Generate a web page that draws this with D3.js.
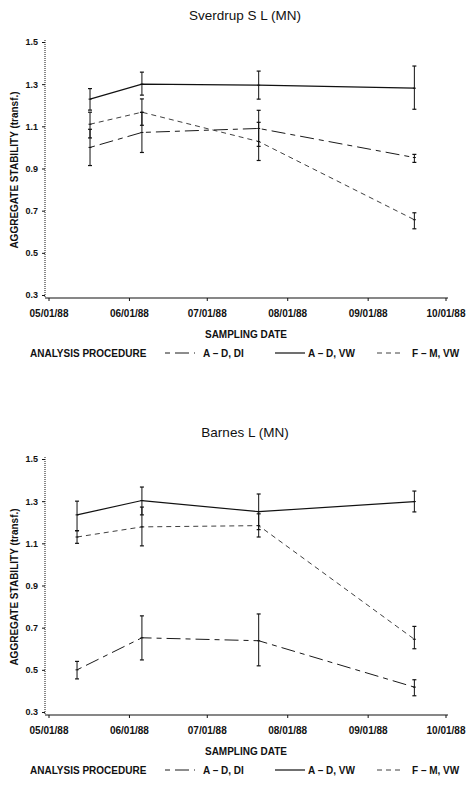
<!DOCTYPE html>
<html><head><meta charset="utf-8">
<script src="https://cdn.jsdelivr.net/npm/d3@7/dist/d3.min.js"></script>
<style>
body{margin:0;background:#fff;}
svg{display:block;font-family:"Liberation Sans",Arial,sans-serif;}
</style></head>
<body><svg id="c" width="466" height="786"></svg>
<script>
// ---------- data ----------
const panelTitles = ["Sverdrup S L (MN)", "Barnes L (MN)"];
const seriesNames = ["A – D, DI", "A – D, VW", "F – M, VW"];
const monthTicks = ["1988-05-01","1988-06-01","1988-07-01","1988-08-01","1988-09-01","1988-10-01"];
const yTicks = [0.3, 0.5, 0.7, 0.9, 1.1, 1.3, 1.5];

// Sverdrup S L
const sverdrupDates = ["1988-05-17","1988-06-06","1988-07-21","1988-09-19"];
const sverdrupDI_mean = [1.000, 1.071, 1.090, 0.952];
const sverdrupDI_lo   = [0.914, 0.976, 1.005, 0.929];
const sverdrupDI_hi   = [1.086, 1.166, 1.176, 0.967];
const sverdrupVW_mean = [1.229, 1.300, 1.295, 1.281];
const sverdrupVW_lo   = [1.177, 1.248, 1.229, 1.181];
const sverdrupVW_hi   = [1.279, 1.357, 1.362, 1.386];
const sverdrupFM_mean = [1.110, 1.167, 1.028, 0.657];
const sverdrupFM_lo   = [1.045, 1.105, 0.938, 0.614];
const sverdrupFM_hi   = [1.167, 1.230, 1.119, 0.690];

// Barnes L
const barnesDates = ["1988-05-12","1988-06-06","1988-07-21","1988-09-19"];
const barnesDI_mean = [0.500, 0.652, 0.638, 0.418];
const barnesDI_lo   = [0.457, 0.547, 0.519, 0.377];
const barnesDI_hi   = [0.540, 0.756, 0.765, 0.453];
const barnesVW_mean = [1.235, 1.303, 1.250, 1.298];
const barnesVW_lo   = [1.160, 1.235, 1.165, 1.249];
const barnesVW_hi   = [1.300, 1.367, 1.334, 1.348];
const barnesFM_mean = [1.130, 1.178, 1.184, 0.645];
const barnesFM_lo   = [1.100, 1.088, 1.130, 0.600];
const barnesFM_hi   = [1.160, 1.272, 1.240, 0.706];

// ---------- build ----------
const parse = d3.timeParse("%Y-%m-%d");
const dashes = ["5,5,14,5", null, "5,4"];
const widths = [1.0, 1.2, 0.9];
const strokes = ["#1a1a1a", "#111", "#2a2a2a"];
const ink = "#111";

function mk(dates, means, los, his){
  return dates.map((d,i)=>({date:parse(d), m:means[i], lo:los[i], hi:his[i]}));
}
const panels = [
  {title:panelTitles[0], series:[
    mk(sverdrupDates, sverdrupDI_mean, sverdrupDI_lo, sverdrupDI_hi),
    mk(sverdrupDates, sverdrupVW_mean, sverdrupVW_lo, sverdrupVW_hi),
    mk(sverdrupDates, sverdrupFM_mean, sverdrupFM_lo, sverdrupFM_hi)]},
  {title:panelTitles[1], series:[
    mk(barnesDates, barnesDI_mean, barnesDI_lo, barnesDI_hi),
    mk(barnesDates, barnesVW_mean, barnesVW_lo, barnesVW_hi),
    mk(barnesDates, barnesFM_mean, barnesFM_lo, barnesFM_hi)]}
];

const svg = d3.select("#c");
const x = d3.scaleTime().domain([parse(monthTicks[0]), parse(monthTicks[monthTicks.length-1])]).range([48.5, 445.5]);
const axX0 = 45, axX1 = 448;

panels.forEach((p, pi) => {
  const off = pi * 417;
  const g = svg.append("g").attr("transform", `translate(0,${off})`);
  const y = d3.scaleLinear().domain([0.3, 1.5]).range([295, 42]);
  const baseY = 298;

  // title
  g.append("text").attr("x", 245).attr("y", 20).attr("text-anchor","middle")
    .attr("font-size", 13.5).attr("fill", ink).text(p.title);

  // y axis
  const ya = g.append("g").attr("transform", `translate(${axX0},0)`)
    .call(d3.axisLeft(y).tickValues(yTicks).tickSize(3).tickPadding(4).tickFormat(d3.format(".1f")));
  ya.select(".domain").remove();
  ya.selectAll(".tick line").attr("stroke", ink).attr("stroke-width", 1);
  ya.selectAll(".tick text").attr("font-size", 9).attr("font-weight","bold").attr("fill", ink)
    .attr("font-family","'Liberation Sans',Arial,sans-serif");
  g.append("line").attr("x1", axX0).attr("x2", axX0).attr("y1", 40).attr("y2", baseY)
    .attr("stroke", ink).attr("stroke-width", 1).attr("stroke-dasharray", "1,1");

  // x axis
  const xa = g.append("g").attr("transform", `translate(0,${baseY})`)
    .call(d3.axisBottom(x).tickValues(monthTicks.map(parse)).tickSize(3).tickPadding(9)
      .tickFormat(d3.timeFormat("%m/%d/%y")));
  xa.select(".domain").remove();
  xa.selectAll(".tick line").attr("stroke", ink).attr("stroke-width", 1);
  xa.selectAll(".tick text").attr("font-size", 10).attr("font-weight","bold").attr("fill", ink)
    .attr("font-family","'Liberation Sans',Arial,sans-serif");
  g.append("line").attr("x1", axX0).attr("x2", axX1).attr("y1", baseY).attr("y2", baseY)
    .attr("stroke", ink).attr("stroke-width", 1.2);

  // axis titles
  g.append("text").attr("transform", `translate(18,170) rotate(-90)`).attr("text-anchor","middle")
    .attr("font-size", 10).attr("font-weight","bold").attr("fill", ink).text("AGGREGATE STABILITY (transf.)");
  g.append("text").attr("x", 246).attr("y", 338).attr("text-anchor","middle")
    .attr("font-size", 10).attr("font-weight","bold").attr("fill", ink).text("SAMPLING DATE");

  // series
  const line = d3.line().x(d=>x(d.date)).y(d=>y(d.m));
  p.series.forEach((s, si) => {
    g.append("path").datum(s).attr("d", line).attr("fill","none").attr("stroke", strokes[si])
      .attr("stroke-width", widths[si]).attr("stroke-dasharray", dashes[si]);
    const eb = g.append("g");
    s.forEach(d => {
      const cx = x(d.date);
      eb.append("line").attr("x1",cx).attr("x2",cx).attr("y1",y(d.lo)).attr("y2",y(d.hi))
        .attr("stroke", ink).attr("stroke-width", 1);
      [d.lo, d.hi].forEach(v => eb.append("line").attr("x1",cx-2).attr("x2",cx+2)
        .attr("y1",y(v)).attr("y2",y(v)).attr("stroke", ink).attr("stroke-width", 1.2));
      eb.append("line").attr("x1",cx-1.5).attr("x2",cx+1.5).attr("y1",y(d.m)).attr("y2",y(d.m))
        .attr("stroke", ink).attr("stroke-width", 1);
    });
  });

  // legend
  const ly = 357;
  g.append("text").attr("x", 30).attr("y", ly).attr("font-size", 10).attr("font-weight","bold")
    .attr("fill", ink).text("ANALYSIS PROCEDURE");
  const legX = [[165,195,203],[275,305,308],[377,404,412]];
  seriesNames.forEach((n, si) => {
    g.append("line").attr("x1", legX[si][0]).attr("x2", legX[si][1]).attr("y1", ly-4).attr("y2", ly-4)
      .attr("stroke", strokes[si]).attr("stroke-width", widths[si]).attr("stroke-dasharray", dashes[si]);
    g.append("text").attr("x", legX[si][2]).attr("y", ly).attr("font-size", 10).attr("font-weight","bold")
      .attr("fill", ink).text(n);
  });
});
</script></body></html>
